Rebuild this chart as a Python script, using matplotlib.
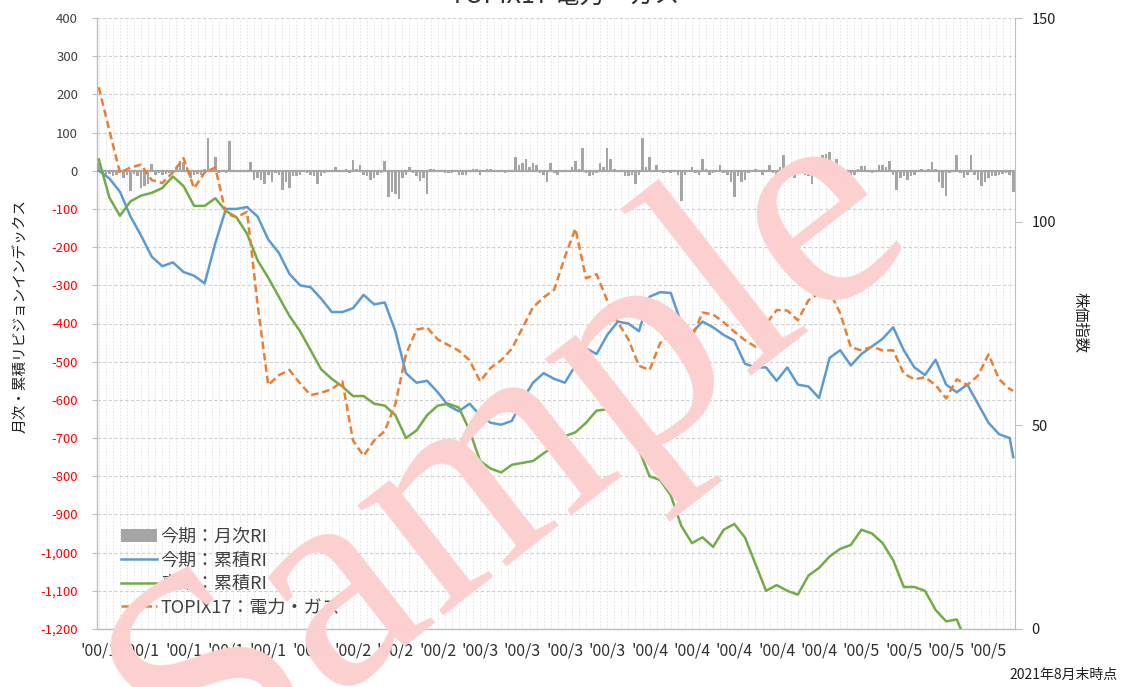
import numpy as np
import matplotlib
matplotlib.use("Agg")
import matplotlib.pyplot as plt
from matplotlib.patches import Patch
from matplotlib.lines import Line2D
from matplotlib.ticker import FuncFormatter

plt.rcParams['font.family'] = ['Noto Sans CJK JP', 'DejaVu Sans']

# ---------------- data ----------------
title = "TOPIX17 電力・ガス"
x_labels = ["'00/1"] * 5 + ["'00/2"] * 4 + ["'00/3"] * 4 + ["'00/4"] * 5 + ["'00/5"] * 4

# monthly revision index (bars), 260 months
monthly_ri = [
    20, -5, -10, -8, -15, -10, -5, -20, -10, -52,
    -8, -15, -45, -40, -35, 18, -10, -5, -12, -8,
    -5, -5, 10, 25, 22, 10, -20, -10, -8, -12,
    5, 85, 5, 35, -5, -3, -5, 77, 3, -3,
    3, -2, 2, 23, -25, -20, -25, -35, -10, -30,
    -5, -10, -50, -30, -45, -15, -15, -10, -3, -5,
    -10, -15, -35, -15, -5, -2, 3, 10, -3, 2,
    5, -5, 28, 5, 15, -10, -15, -25, -20, -10,
    -5, 25, -70, -55, -60, -75, -20, -10, 10, -5,
    -15, -28, -20, -61, 5, 5, 3, -3, -5, -5,
    -5, -3, -10, -10, -10, -3, 5, 5, -10, -3,
    5, 5, 3, -3, -3, -5, -3, -2, 37, 15,
    20, 30, 10, 20, 15, -5, -12, -30, 20, -5,
    -10, -3, -3, 3, 10, 25, 5, 59, -5, -15,
    -10, -5, 20, 10, 60, 30, 5, -3, -3, -15,
    -15, -10, -35, -10, 86, 10, 35, -3, 15, 3,
    -5, -3, -5, 3, -10, -80, -10, 3, 10, -5,
    -10, 30, 5, -10, -5, 3, 15, -5, -10, -30,
    -70, -15, -30, -25, -5, 3, 5, -3, -10, 3,
    15, -5, -15, 10, 40, -5, -10, -20, -5, 3,
    -10, -15, -35, 10, 20, 40, 45, 50, 20, 30,
    -5, -10, -25, -15, -10, 5, 12, 12, 3, -5,
    3, 15, 15, 10, 25, -10, -50, -20, -15, -25,
    -15, -10, 3, 5, 3, 5, 22, 5, -30, -45,
    -65, -5, 3, 40, -5, -20, -10, 40, -10, -25,
    -40, -30, -20, -15, -15, -10, -8, -5, -10, -55,
]
months = list(range(len(monthly_ri)))

# sampled month positions for the line series (every 3 months + last)
line_months = list(range(0, 259, 3)) + [259]

cum_ri_this = [
    0, -20, -55, -120, -170, -225, -250, -240, -265, -275,
    -295, -190, -100, -100, -95, -120, -180, -215, -270, -300,
    -305, -335, -370, -370, -360, -325, -350, -345, -420, -530,
    -555, -550, -580, -615, -630, -610, -640, -660, -665, -655,
    -600, -555, -530, -545, -555, -510, -465, -480, -430, -395,
    -400, -420, -330, -318, -320, -400, -424, -395, -410, -430,
    -445, -505, -515, -515, -550, -515, -560, -565, -595, -490,
    -470, -510, -480, -460, -440, -410, -470, -515, -535, -495,
    -560, -580, -560, -610, -660, -690, -700, -750,
]

cum_ri_next = [
    30, -70, -118, -80, -65, -58, -45, -15, -40, -92,
    -92, -72, -105, -122, -165, -235, -280, -330, -380, -420,
    -470, -520, -545, -565, -590, -590, -610, -615, -640, -700,
    -680, -640, -615, -610, -620, -680, -760, -780, -790, -770,
    -765, -760, -740, -720, -695, -685, -660, -628, -625, -640,
    -680, -730, -800, -810, -850, -930, -975, -960, -985, -940,
    -925, -960, -1030, -1100, -1085, -1100, -1110, -1060, -1040, -1010,
    -990, -980, -940, -950, -975, -1020, -1090, -1090, -1100, -1150,
    -1180, -1175, -1240,
]

stock_index = [
    133, 122.4, 112, 113.3, 114, 110.2, 109.5, 112.1, 115.6, 108.2,
    112.1, 113.3, 102, 101.1, 102.4, 79.6, 59.9, 62.3, 63.6, 60.3,
    57.4, 58, 58.9, 60.8, 46.3, 42.5, 46.3, 48.6, 55.2, 67.4,
    73.5, 74, 71.1, 69.7, 68.3, 66, 60.8, 64.1, 66, 68.8,
    73.9, 79, 81.4, 83.3, 91.3, 98.3, 86.1, 87.1, 80.7, 75.3,
    71.1, 64.6, 63.6, 70.2, 72.5, 71.1, 71.6, 77.7, 77.2, 75.3,
    73, 70.9, 69.3, 74.9, 78.3, 78.2, 75.8, 80.7, 82.4, 82.9,
    77.5, 69.2, 68.4, 69.3, 68.4, 68.4, 62.7, 61.3, 61.8, 59.9,
    56.6, 61.3, 59.9, 62.2, 67.4, 61.3, 58.9, 58.5,
]

legend_labels = ["今期：月次RI", "今期：累積RI", "来期：累積RI", "TOPIX17：電力・ガス"]

# ---------------- figure ----------------
W, H = 1124, 687
fig = plt.figure(figsize=(W / 100, H / 100), dpi=100)
ax = fig.add_axes([97 / W, 58 / H, 918 / W, 611 / H])

c_bar = '#a5a5a5'
c_blue = '#5B9BD5'
c_green = '#70AD47'
c_orange = '#ED7D31'
c_axis = '#bfbfbf'

ax.bar(months, monthly_ri, width=0.72, color=c_bar, zorder=3)
ax.axhline(0, color='#a6a6a6', lw=1.6, zorder=2.8)
ax.plot(line_months, cum_ri_this, color=c_blue, lw=1.8, zorder=4)
ax.plot(line_months[:len(cum_ri_next)], cum_ri_next, color=c_green, lw=1.8, zorder=4)

ax.set_xlim(-0.5, len(months) - 0.5)
ax.set_ylim(-1200, 400)
ax.set_yticks(range(-1200, 401, 100))
ax.yaxis.set_major_formatter(FuncFormatter(lambda v, p: f"{v:,.0f}"))
ax.set_xticks(range(0, len(months), 12))
ax.set_xticklabels(x_labels)
ax.set_xticks(range(0, len(months), 2), minor=True)

ax.set_axisbelow(True)
ax.yaxis.grid(True, ls=(0, (3, 2)), color='#cfcfcf', lw=0.8)
ax.xaxis.grid(True, which='both', ls=(0, (2, 2)), color='#e0e0e0', lw=0.6)

ax.tick_params(axis='x', which='both', length=0, pad=10, labelsize=11.5, labelcolor='#303030')
ax.tick_params(axis='y', length=3.6, color=c_axis, pad=10, labelsize=9.5)
for lab, v in zip(ax.get_yticklabels(), range(-1200, 401, 100)):
    lab.set_color('#ff0000' if v < 0 else '#404040')

for s in ['top', 'right']:
    ax.spines[s].set_visible(False)
for s in ['left', 'bottom']:
    ax.spines[s].set_color(c_axis)
    ax.spines[s].set_linewidth(1.0)

ax2 = ax.twinx()
ax2.plot(line_months, stock_index, color=c_orange, lw=1.8, dashes=(3, 1.6), zorder=4)
ax2.set_ylim(0, 150)
ax2.set_yticks([0, 50, 100, 150])
ax2.tick_params(axis='y', length=5, color=c_axis, pad=7, labelsize=10.5, labelcolor='#202020')
for s in ['top', 'left', 'bottom']:
    ax2.spines[s].set_visible(False)
ax2.spines['right'].set_color(c_axis)

# legend
handles = [
    Patch(facecolor=c_bar, edgecolor='none'),
    Line2D([], [], color=c_blue, lw=1.8),
    Line2D([], [], color=c_green, lw=1.8),
    Line2D([], [], color=c_orange, lw=1.8, dashes=(3, 1.6)),
]
leg = ax2.legend(handles, legend_labels, loc='lower left', bbox_to_anchor=(0.012, 0.0),
                 frameon=False, fontsize=13, handlelength=2.0, handletextpad=0.2,
                 labelspacing=0.3, borderpad=0.2)
for t in leg.get_texts():
    t.set_color('#404040')

# texts
fig.text(20 / W, 1 - 316 / H, "月次・累積リビジョンインデックス", rotation=90,
         ha='center', va='center', fontsize=10.5, color='#202020')
fig.text(1080 / W, 1 - 323 / H, "株価指数", rotation=270,
         ha='center', va='center', fontsize=11, color='#202020')
fig.text(1118 / W, 1 - 675 / H, "2021年8月末時点", ha='right', va='center',
         fontsize=10, color='#202020')
fig.text(565 / W, 1 - 3 / H, title, ha='center', va='baseline', fontsize=18, color='#303030')

# watermark
fig.text(510 / W, 1 - 455 / H, "Sample", fontsize=220, family=['Liberation Serif'],
         color='#fdd0d0', rotation=38, rotation_mode='anchor',
         ha='center', va='center', zorder=100)

fig.savefig("out.png", dpi=100)
